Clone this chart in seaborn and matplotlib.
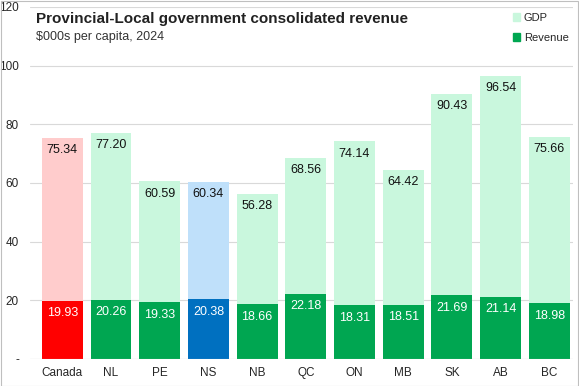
import pandas as pd
import matplotlib.pyplot as plt
import seaborn as sns
from matplotlib.patches import Patch

sns.set_theme(style="white")
plt.rcParams['font.family'] = ['Liberation Sans', 'DejaVu Sans']

# data
regions = ['Canada', 'NL', 'PE', 'NS', 'NB', 'QC', 'ON', 'MB', 'SK', 'AB', 'BC']
gdp = [75.34, 77.20, 60.59, 60.34, 56.28, 68.56, 74.14, 64.42, 90.43, 96.54, 75.66]
revenue = [19.93, 20.26, 19.33, 20.38, 18.66, 22.18, 18.31, 18.51, 21.69, 21.14, 18.98]

df = pd.DataFrame({'region': regions, 'gdp': gdp, 'revenue': revenue})

# colours: Canada red, NS blue, the rest green
light = {r: '#C9F7DD' for r in regions}
dark = {r: '#00A651' for r in regions}
light['Canada'], dark['Canada'] = '#FFCCCC', '#FF0000'
light['NS'], dark['NS'] = '#BFE0FA', '#0070C0'

fig = plt.figure(figsize=(5.79, 3.86), dpi=100)
ax = fig.add_axes([0.052, 0.070, 0.938, 0.912])

sns.barplot(data=df, x='region', y='gdp', hue='region', palette=light,
            width=0.84, legend=False, ax=ax, saturation=1, linewidth=0)
sns.barplot(data=df, x='region', y='revenue', hue='region', palette=dark,
            width=0.84, legend=False, ax=ax, saturation=1, linewidth=0)

for i, (g, r) in enumerate(zip(gdp, revenue)):
    ax.text(i, g - 2.2, f'{g:.2f}', ha='center', va='top', fontsize=9, color='#111111')
    ax.text(i, r - 2.2, f'{r:.2f}', ha='center', va='top', fontsize=9, color='white')

ax.set_ylim(0, 120)
ax.set_xlim(-0.66, 10.49)
ax.set_yticks([0, 20, 40, 60, 80, 100, 120])
ax.set_yticklabels(['-', '20', '40', '60', '80', '100', '120'], fontsize=8.5)
ax.tick_params(axis='x', labelsize=8.5, length=0, pad=6)
ax.tick_params(axis='y', length=0, pad=8)
ax.yaxis.grid(True, color='#D9D9D9', linewidth=0.8)
ax.set_axisbelow(True)
for s in ax.spines.values():
    s.set_visible(False)
ax.axhline(0, color='#D9D9D9', linewidth=0.8)
ax.set_xlabel('')
ax.set_ylabel('')

fig.text(0.062, 0.951, 'Provincial-Local government consolidated revenue',
         fontsize=11, fontweight='bold', color='#222222', va='center')
fig.text(0.062, 0.903, '$000s per capita, 2024', fontsize=9, color='#333333', va='center')

handles = [Patch(color=light['NL']), Patch(color=dark['NL'])]
ax.legend(handles, ['GDP', 'Revenue'], loc='upper right', frameon=False,
          fontsize=8, handlelength=0.7, handleheight=0.7, handletextpad=0.3,
          labelspacing=0.9, bbox_to_anchor=(1.01, 1.012))

# light grey frame around the whole image
fig.patches.append(plt.Rectangle((0.001, 0.001), 0.997, 0.997, transform=fig.transFigure,
                                 fill=False, edgecolor='#BFBFBF', linewidth=0.8))

fig.savefig('out.png', dpi=100)
